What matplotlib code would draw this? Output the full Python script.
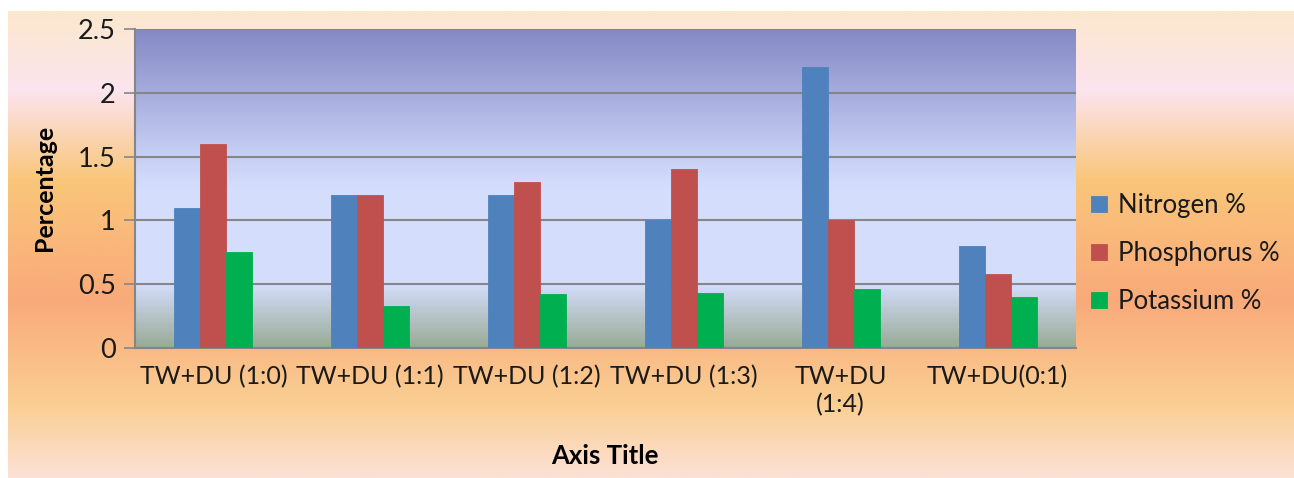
import matplotlib.pyplot as plt
import numpy as np
from matplotlib.colors import LinearSegmentedColormap

# Contenuto di nutrienti per ciascun trattamento
categories = ["TW+DU (1:0)", "TW+DU (1:1)", "TW+DU (1:2)", "TW+DU (1:3)", "TW+DU\n(1:4)", "TW+DU(0:1)"]
nitrogen = [1.1, 1.2, 1.2, 1.0, 2.2, 0.8]
phosphorus = [1.6, 1.2, 1.3, 1.4, 1.0, 0.58]
potassium = [0.75, 0.33, 0.42, 0.43, 0.46, 0.40]
series_names = ["Nitrogen %", "Phosphorus %", "Potassium %"]
series_colors = ["#4F81BD", "#C0504D", "#00B050"]

plt.rcParams['font.family'] = ['Lato', 'DejaVu Sans']

W, H = 1294, 478
fig = plt.figure(figsize=(W / 100, H / 100), dpi=100)
fig.patch.set_facecolor("white")

# sfondo del grafico: sfumatura pesca / rosa / arancio
bg = fig.add_axes([8 / W, 0, 1 - 8 / W, (H - 11) / H], zorder=-10)
bg_cmap = LinearSegmentedColormap.from_list("bg", [
    (0.0, (251 / 255, 232 / 255, 206 / 255)),
    (0.17, (252 / 255, 228 / 255, 238 / 255)),
    (0.36, (249 / 255, 198 / 255, 122 / 255)),
    (0.62, (249 / 255, 170 / 255, 122 / 255)),
    (0.84, (250 / 255, 206 / 255, 146 / 255)),
    (1.0, (252 / 255, 225 / 255, 214 / 255)),
])
bg.imshow(np.linspace(0, 1, 256).reshape(-1, 1), cmap=bg_cmap, aspect="auto",
          extent=[0, 1, 1, 0])
bg.set_xlim(0, 1)
bg.set_ylim(1, 0)
bg.set_axis_off()

ax = fig.add_axes([135 / W, (H - 348) / H, 941 / W, 319 / H])

# sfondo dell'area del grafico: blu in alto, verde-grigio in basso
area_cmap = LinearSegmentedColormap.from_list("area", [
    (0.0, (152 / 255, 170 / 255, 150 / 255)),
    (0.2, (212 / 255, 222 / 255, 252 / 255)),
    (0.5, (212 / 255, 222 / 255, 252 / 255)),
    (0.62, (196 / 255, 205 / 255, 242 / 255)),
    (1.0, (132 / 255, 137 / 255, 196 / 255)),
])
ax.imshow(np.linspace(0, 1, 256).reshape(-1, 1), cmap=area_cmap, aspect="auto",
          origin="lower", extent=[-0.5, len(categories) - 0.5, 0, 2.5], zorder=0)

x = np.arange(len(categories))
w = 0.166
for i, (vals, name, col) in enumerate(zip([nitrogen, phosphorus, potassium], series_names, series_colors)):
    ax.bar(x + (i - 1) * w, vals, w, color=col, edgecolor=col, linewidth=0.6,
           label=name, zorder=3)

ax.set_xlim(-0.5, len(categories) - 0.5)
ax.set_ylim(0, 2.5)
ax.set_yticks([0, 0.5, 1, 1.5, 2, 2.5])
ax.set_yticklabels(["0", "0.5", "1", "1.5", "2", "2.5"])
ax.yaxis.grid(True, color="#868686", linewidth=1.5, zorder=1)
ax.set_axisbelow(False)
ax.set_xticks(x)
ax.set_xticklabels(categories, fontsize=18, color="#1a1a1a", linespacing=1.3)
ax.tick_params(axis="x", length=0, pad=12)
ax.tick_params(axis="y", length=8, width=1.2, color="#868686", labelsize=19.5,
               labelcolor="#1a1a1a", pad=6)
for s in ["top", "right"]:
    ax.spines[s].set_visible(False)
for s in ["left", "bottom"]:
    ax.spines[s].set_color("#868686")
    ax.spines[s].set_linewidth(1.5)

fig.text(45 / W, 1 - 188 / H, "Percentage", rotation=90, ha="center", va="center",
         fontsize=18, fontweight="bold", color="black")
fig.text(605 / W, 1 - 456 / H, "Axis Title", ha="center", va="center",
         fontsize=18.5, fontweight="bold", color="black")

fig.legend(loc="upper left", bbox_to_anchor=(1068 / W, 1 - 170 / H), frameon=False,
           fontsize=18.5, handlelength=0.6, handleheight=0.6, handletextpad=0.45,
           labelspacing=0.9, labelcolor="#1a1a1a")

fig.savefig("out.png", dpi=100)
